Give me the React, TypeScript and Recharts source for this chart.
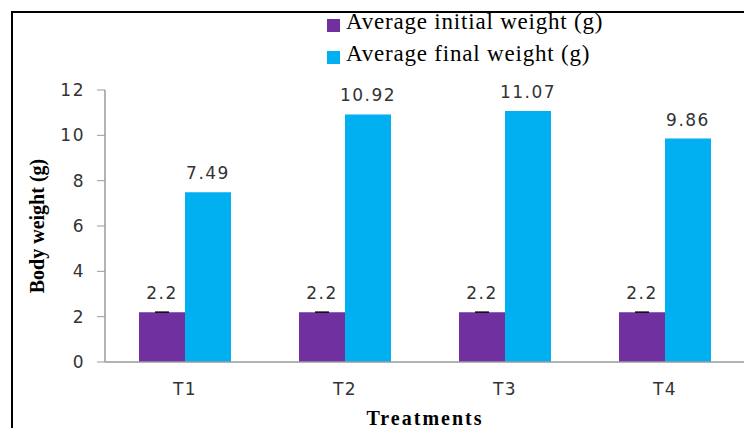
import { BarChart, Bar, XAxis, YAxis, Legend, LabelList, ErrorBar } from "recharts"

const treatments = ["T1", "T2", "T3", "T4"]
const initialWeight = [2.2, 2.2, 2.2, 2.2]
const finalWeight = [7.49, 10.92, 11.07, 9.86]
const initialError = [0, 0, 0, 0]
const yTicks = [0, 2, 4, 6, 8, 10, 12]
const edgeTicks = [0, 1, 2, 3, 4]

const series = [
  { key: "initial", name: "Average initial weight (g)", color: "#7030A0" },
  { key: "final", name: "Average final weight (g)", color: "#00B0F0" },
]

const data = treatments.map((t, i) => ({
  treatment: t,
  initial: initialWeight[i],
  final: finalWeight[i],
  // error bar needs a [low, high] pair, a plain 0 is skipped
  initialErr: [initialError[i], initialError[i]],
}))

const axisGray = "#9a9a9a"
const sans = '"DejaVu Sans", sans-serif'
const serif = '"Liberation Serif", "Times New Roman", serif'
const tickStyle = { fontSize: 17, fill: "#333", fontFamily: sans, letterSpacing: 1.5 }
const labelStyle = { fontSize: 17, fill: "#333", fontFamily: sans, letterSpacing: 1.5 }

const renderLegend = () => (
  <div style={{ fontFamily: serif, fontSize: 23, letterSpacing: 0.8, color: "#000" }}>
    {series.map((s) => (
      <div key={s.key} style={{ display: "flex", alignItems: "center", height: 32, whiteSpace: "nowrap" }}>
        <span
          style={{
            display: "inline-block",
            width: 13,
            height: 13,
            background: s.color,
            marginRight: 6,
            position: "relative",
            top: 3,
          }}
        />
        {s.name}
      </div>
    ))}
  </div>
)

export default function App() {
  return (
    <div style={{ position: "absolute", left: 0, top: 0, width: 744, height: 428, overflow: "hidden", background: "#fff" }}>
      <div
        style={{
          position: "absolute",
          left: 11,
          top: 11,
          width: 760,
          height: 440,
          borderTop: "2px solid #000",
          borderLeft: "2px solid #000",
        }}
      />
      <BarChart
        width={760}
        height={428}
        data={data}
        margin={{ top: 90, right: 15, bottom: 0, left: 0 }}
        barCategoryGap="21.25%"
        barGap={0}
      >
        {/* boundary ticks between categories */}
        <XAxis
          xAxisId="edges"
          type="number"
          domain={[0, 4]}
          ticks={edgeTicks}
          tick={false}
          tickSize={7}
          tickLine={{ stroke: axisGray }}
          axisLine={false}
          height={0}
        />
        <XAxis
          dataKey="treatment"
          height={66}
          tickLine={false}
          tickSize={6}
          tickMargin={15}
          tick={tickStyle}
          axisLine={{ stroke: axisGray, strokeWidth: 1.5 }}
          label={{
            value: "Treatments",
            position: "insideBottom",
            offset: 3,
            style: { fontFamily: serif, fontWeight: "bold", fontSize: 20, fill: "#000", letterSpacing: 2 },
          }}
        />
        <YAxis
          width={105}
          domain={[0, 12]}
          ticks={yTicks}
          tickSize={8}
          tickMargin={12}
          tick={tickStyle}
          tickLine={{ stroke: axisGray }}
          axisLine={{ stroke: axisGray, strokeWidth: 1.5 }}
          label={{
            value: "Body weight (g)",
            angle: -90,
            position: "insideLeft",
            offset: 37,
            style: { textAnchor: "middle", fontFamily: serif, fontWeight: "bold", fontSize: 20, fill: "#000" },
          }}
        />
        <Legend
          layout="vertical"
          align="center"
          verticalAlign="middle"
          content={renderLegend}
          wrapperStyle={{ top: 6, left: 327, width: "auto", height: "auto" }}
        />
        {series.map((s) => (
          <Bar key={s.key} dataKey={s.key} name={s.name} fill={s.color} isAnimationActive={false}>
            {s.key === "initial" && (
              <ErrorBar dataKey="initialErr" width={7} stroke="#000" strokeWidth={1} isAnimationActive={false} />
            )}
            <LabelList dataKey={s.key} position="top" offset={13} style={labelStyle} />
          </Bar>
        ))}
      </BarChart>
    </div>
  )
}
